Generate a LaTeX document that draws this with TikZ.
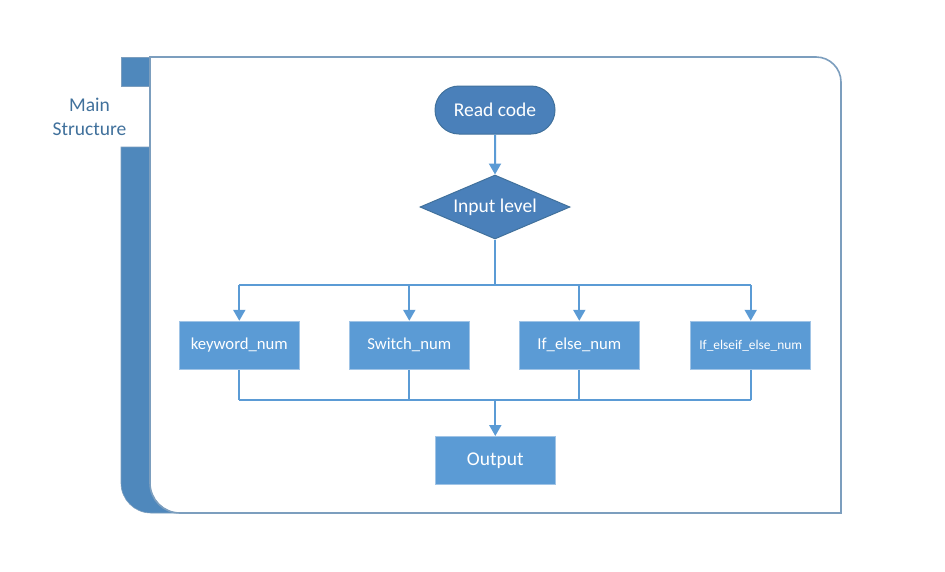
\documentclass[tikz,border=0pt]{standalone}
\usepackage{fontspec}
\setmainfont{Carlito}
\usetikzlibrary{shapes.geometric,shapes.misc,arrows.meta}
\definecolor{band}{RGB}{79,136,188}
\definecolor{frameline}{RGB}{124,158,190}
\definecolor{dark}{RGB}{74,128,186}
\definecolor{darkline}{RGB}{65,113,156}
\definecolor{boxfill}{RGB}{91,155,213}
\definecolor{boxline}{RGB}{160,196,230}
\definecolor{conn}{RGB}{91,155,213}
\definecolor{labeltext}{RGB}{65,113,156}
\tikzset{
  px/.style={x=1pt,y=-1pt},
  termbox/.style={rounded rectangle, fill=dark, draw=darkline, line width=1pt,
    minimum width=120pt, minimum height=48pt, inner sep=0pt, text=white,
    font=\fontsize{19.5}{22}\selectfont},
  decbox/.style={diamond, aspect=2.34, fill=dark, draw=darkline, line width=1pt,
    minimum width=150pt, minimum height=64pt, inner sep=0pt, text=white,
    font=\fontsize{19.5}{22}\selectfont},
  procbox/.style={rectangle, fill=boxfill, draw=boxline, line width=1pt,
    minimum width=120pt, minimum height=48pt, inner sep=0pt, text=white,
    font=\fontsize{16.7}{20}\selectfont},
  conline/.style={draw=conn, line width=2pt},
  conarrow/.style={conline, -{Triangle[width=12pt,length=11pt]}},
}
\begin{document}
\begin{tikzpicture}[px]
\useasboundingbox (0,0) rectangle (945,571);
\fill[white] (0,0) rectangle (945,571);
% left band
\fill[band, draw=frameline, line width=0.6pt] (121,57) rectangle (150,86);
\fill[band, draw=frameline, line width=0.6pt] (121,147) -- (121,483)
   arc[start angle=180, end angle=90, radius=30] -- (180,513)
   arc[start angle=90, end angle=180, radius=30] -- (150,147) -- cycle;
% frame
\draw[frameline, line width=1.6pt] (150,57) -- (816,57)
   arc[start angle=270, end angle=360, radius=25] -- (841,513) -- (180,513)
   arc[start angle=90, end angle=180, radius=30] -- cycle;
\node[text=labeltext, font=\fontsize{19.5}{24}\selectfont, align=center] (lbl) at (89.5,116.5) {Main\\Structure};
% nodes
\node[termbox] (read) at (495,110) {Read code};
\node[decbox] (input) at (495,207) {Input level};
\node[procbox] (kw) at (239.3,345.3) {keyword\_num};
\node[procbox] (sw) at (409.3,345.3) {Switch\_num};
\node[procbox] (ie) at (579.3,345.3) {If\_else\_num};
\node[procbox, font=\fontsize{13.4}{16}\selectfont] (iei) at (750.7,345.3) {If\_elseif\_else\_num};
\node[procbox, font=\fontsize{19.5}{22}\selectfont] (out) at (495.3,460.5) {Output};
\coordinate (topj) at (495,285);
\coordinate (botj) at (495.3,400);
% connectors
\draw[conarrow] (read) -- (input);
\draw[conline] (input.south) -- (topj);
\draw[conline] (kw.north |- topj) -- (iei.north |- topj);
\foreach \n in {kw,sw,ie,iei}{
  \draw[conarrow] (\n.north |- topj) -- (\n.north);
  \draw[conline] (\n.south) -- (\n.south |- botj);
}
\draw[conline] (kw.south |- botj) -- (iei.south |- botj);
\draw[conarrow] (botj) -- (out.north);
\end{tikzpicture}
\end{document}
